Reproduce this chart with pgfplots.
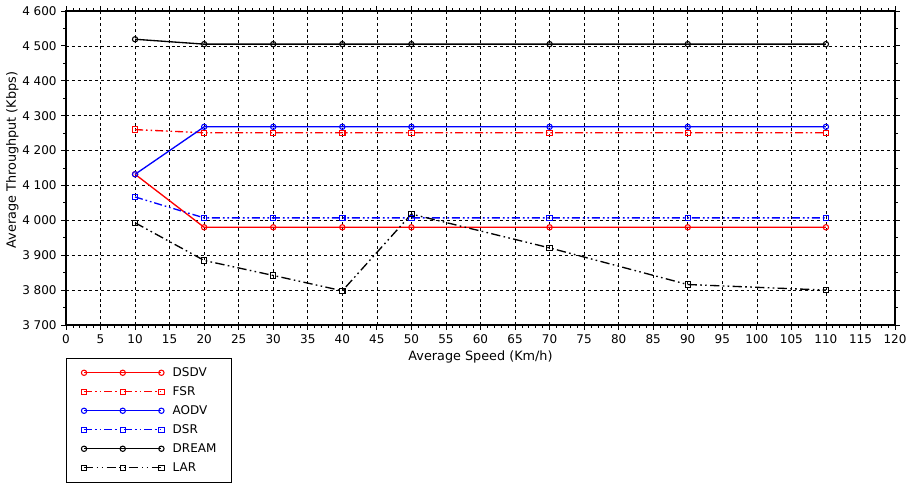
\documentclass[border=0pt]{standalone}
\usepackage{pgfplots}
\pgfplotsset{compat=1.18}
\usepackage{fontspec}
\setmainfont{DejaVu Sans}
\usetikzlibrary{calc}
\begin{document}
\begin{tikzpicture}[x=1pt,y=1pt]
\tikzset{ddd/.style={dash pattern=on 6pt off 2.2pt on 1.2pt off 2.2pt on 1.2pt off 2.2pt}}
\begin{axis}[
  name=ax,
  scale only axis,
  width=621.75pt, height=235.5pt,
  xmin=0, xmax=120, ymin=3700, ymax=4600,
  xtick distance=5, ytick distance=100,
  minor x tick num=4, minor y tick num=1,
  tick align=outside,
  major tick length=3.5pt, minor tick length=2pt,
  axis line style={line width=1.3pt},
  every tick/.style={black, line width=0.6pt},
  grid=major,
  major grid style={dashed, black, line width=0.5pt, dash pattern=on 2.2pt off 2.2pt},
  /pgf/number format/1000 sep={\ },
  /pgf/number format/assume math mode=true,
  font=\fontsize{9}{11}\selectfont,
  tick label style={font=\fontsize{9}{11}\selectfont},
  label style={font=\fontsize{9.6}{11.5}\selectfont},
  xlabel={Average Speed (Km/h)},
  ylabel={Average Throughput (Kbps)},
  xlabel style={yshift=1pt},
  ylabel style={yshift=-4pt, xshift=6pt},
  every axis plot/.append style={line width=1pt},
  legend style={at={(0,-0.105)}, anchor=north west, draw=black, line width=0.6pt,
    font=\fontsize{9}{11}\selectfont, row sep=5.25pt, column sep=0pt,
    inner xsep=8.25pt, inner ysep=6.3pt,
    nodes={text height=7pt, text depth=2pt, inner ysep=0pt, inner xsep=3pt},
    cells={anchor=west}, text width=33pt},
  legend cell align=left,
  legend image code/.code={\path (-4.5pt,0pt) (63pt,0pt);\draw[#1] plot coordinates {(0pt,0pt) (29pt,0pt) (58pt,0pt)};},
]
\addplot[red, mark=o, mark size=2pt, mark options={solid, fill=white, line width=0.8pt}]
  coordinates {(10,4132) (20,3980) (30,3980) (40,3980) (50,3980) (70,3980) (90,3980) (110,3980)};
\addlegendentry{DSDV}
\addplot[red, ddd, mark=square, mark size=2pt, mark options={solid, fill=white, line width=0.8pt}]
  coordinates {(10,4260) (20,4251) (30,4251) (40,4251) (50,4251) (70,4251) (90,4251) (110,4251)};
\addlegendentry{FSR}
\addplot[blue, mark=o, mark size=2pt, mark options={solid, fill=white, line width=0.8pt}]
  coordinates {(10,4132) (20,4268) (30,4268) (40,4268) (50,4268) (70,4268) (90,4268) (110,4268)};
\addlegendentry{AODV}
\addplot[blue, ddd, mark=square, mark size=2pt, mark options={solid, fill=white, line width=0.8pt}]
  coordinates {(10,4067) (20,4007) (30,4007) (40,4007) (50,4007) (70,4007) (90,4007) (110,4007)};
\addlegendentry{DSR}
\addplot[black, mark=o, mark size=2pt, mark options={solid, fill=white, line width=0.8pt}]
  coordinates {(10,4519) (20,4505) (30,4505) (40,4505) (50,4505) (70,4505) (90,4505) (110,4505)};
\addlegendentry{DREAM}
\addplot[black, dash pattern=on 7pt off 2.5pt on 1.2pt off 2.5pt on 1.2pt off 2.5pt, mark=square, mark size=2pt, mark options={solid, fill=white, line width=0.8pt}]
  coordinates {(10,3993) (20,3885) (30,3842) (40,3798) (50,4018) (70,3921) (90,3816) (110,3800)};
\addlegendentry{LAR}
\end{axis}
\pgfresetboundingbox
\path ($(ax.south west)+(-49.5pt,-119.25pt)$) rectangle ($(ax.north east)+(9.75pt,8.25pt)$);
\end{tikzpicture}
\end{document}
